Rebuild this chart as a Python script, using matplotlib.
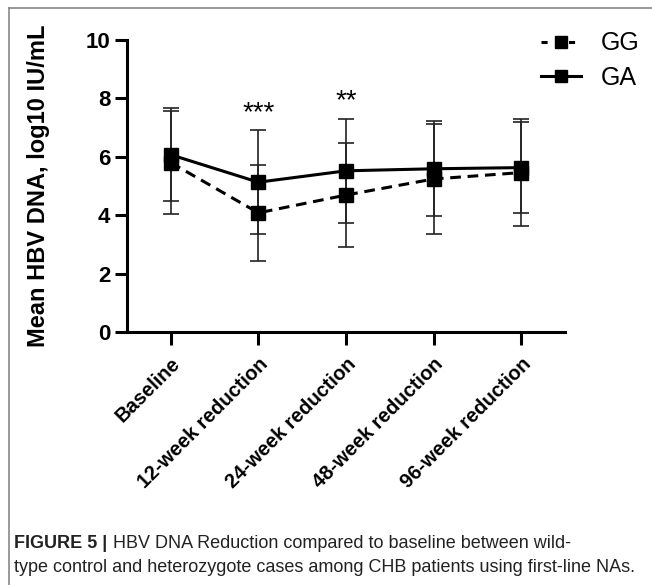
import numpy as np
import matplotlib
matplotlib.use('Agg')
from matplotlib import pyplot as plt
from matplotlib.lines import Line2D

plt.rcParams['font.family'] = ['Liberation Sans', 'DejaVu Sans']

categories = ['Baseline', '12-week reduction', '24-week reduction',
              '48-week reduction', '96-week reduction']
gg_mean = [5.80, 4.08, 4.69, 5.24, 5.46]
gg_sd = [1.77, 1.64, 1.77, 1.90, 1.82]
ga_mean = [6.07, 5.13, 5.52, 5.59, 5.63]
ga_sd = [1.60, 1.78, 1.77, 1.62, 1.56]
sig_labels = ['', '***', '**', '', '']
sig_y = [0, 7.05, 7.45, 0, 0]

x = np.arange(len(categories))

fig = plt.figure(figsize=(6.52, 5.85), dpi=100)
ax = fig.add_axes([127/652, 1-332/585, (565-127)/652, (332-40)/585])

# error bars first, then the lines on top
ax.errorbar(x, gg_mean, yerr=gg_sd, fmt='none', ecolor='#222222',
            elinewidth=1.2, capsize=5.5, capthick=1.2, zorder=2)
ax.errorbar(x, ga_mean, yerr=ga_sd, fmt='none', ecolor='#222222',
            elinewidth=1.2, capsize=5.5, capthick=1.2, zorder=2)
ax.plot(x, gg_mean, color='black', lw=2.2, ls=(0, (3.5, 2.2)),
        marker='s', ms=10, zorder=3)
ax.plot(x, ga_mean, color='black', lw=2.2, ls='-',
        marker='s', ms=10, zorder=4)

for i, s in enumerate(sig_labels):
    if s:
        ax.text(x[i], sig_y[i], s, ha='center', va='bottom', fontsize=20)

ax.set_xlim(-0.5, 4.5)
ax.set_ylim(0, 10)
ax.set_yticks([0, 2, 4, 6, 8, 10])
ax.set_xticks(x)
ax.set_xticklabels(categories, rotation=45, ha='right',
                   rotation_mode='anchor', fontsize=14.5, fontweight='bold')
for lab in ax.get_yticklabels():
    lab.set_fontweight('bold')
    lab.set_fontsize(16)
ax.tick_params(axis='both', width=2.2, length=9, pad=3)
ax.tick_params(axis='x', pad=7)
for side in ['top', 'right']:
    ax.spines[side].set_visible(False)
for side in ['left', 'bottom']:
    ax.spines[side].set_linewidth(2.2)

ax.set_ylabel('Mean HBV DNA, log10 IU/mL', fontsize=17, fontweight='bold')
ax.yaxis.set_label_coords(-0.175, 0.5)

handles = [Line2D([], [], color='black', lw=2.2, ls=(0, (2, 2.5)),
                  marker='s', ms=8),
           Line2D([], [], color='black', lw=2.2, ls='-', marker='s', ms=8)]
fig.legend(handles, ['GG', 'GA'], loc='upper right',
           bbox_to_anchor=(1.0, 1-19/585), frameon=False, borderaxespad=0.1,
           fontsize=18, handlelength=1.6, handletextpad=0.8,
           labelspacing=0.42)

# figure frame lines (top and left)
fig.add_artist(Line2D([9/652, 1], [1-8/585, 1-8/585], color='#888888',
                      lw=1.2, transform=fig.transFigure))
fig.add_artist(Line2D([9/652, 9/652], [0, 1-8/585], color='#888888',
                      lw=1.2, transform=fig.transFigure))

# caption
fig.text(14/652, 1-543/585, 'FIGURE 5 |', fontsize=13, fontweight='bold',
         va='center', color='#222222')
fig.text(113/652, 1-543/585,
         'HBV DNA Reduction compared to baseline between wild-',
         fontsize=13, va='center', color='#222222')
fig.text(14/652, 1-567/585,
         'type control and heterozygote cases among CHB patients using first-line NAs.',
         fontsize=13, va='center', color='#222222')

fig.savefig('out.png', dpi=100)
